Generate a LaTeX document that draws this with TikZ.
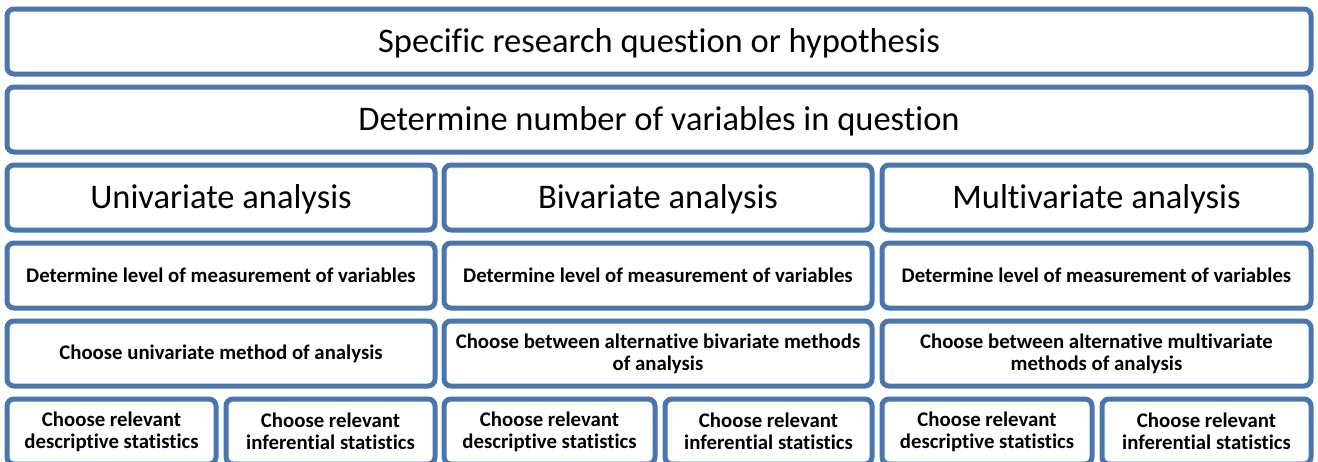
\documentclass[tikz,border=0pt]{standalone}
\usepackage{fontspec}
\setmainfont{Carlito}[Ligatures={NoCommon}]
\definecolor{boxblue}{RGB}{74,118,174}
\begin{document}
\begin{tikzpicture}[x=1pt,y=-1pt,
  box/.style={draw=boxblue, line width=5pt, rounded corners=7pt, fill=white,
              inner sep=0pt, minimum height=65pt, align=center},
  big/.style={font=\fontsize{34.5}{40}\selectfont, text height=29.5pt, text depth=7pt},
  small/.style={font=\bfseries\fontsize{20.8}{22}\selectfont}]
\useasboundingbox (0,0) rectangle (1318,461);
\begin{scope}
\clip (0,0) rectangle (1318,461);
% full-width rows
\node[box, big, minimum width=1304pt] (question) at (659,41.5) {Specific research question or hypothesis};
\node[box, big, minimum width=1304pt] (number) at (659,119.5) {Determine number of variables in question};
% analysis columns
\node[box, big, minimum width=428pt] (uni) at (221,197.5) {Univariate analysis};
\node[box, big, minimum width=428pt] (bi) at (658,197.5) {Bivariate analysis};
\node[box, big, minimum width=429pt] (multi) at (1096.5,197.5) {Multivariate analysis};
% level of measurement
\node[box, small, minimum width=428pt] (unilevel) at (221,275.5) {Determine level of measurement of variables};
\node[box, small, minimum width=428pt] (bilevel) at (658,275.5) {Determine level of measurement of variables};
\node[box, small, minimum width=429pt] (multilevel) at (1096.5,275.5) {Determine level of measurement of variables};
% method choice
\node[box, small, minimum width=428pt] (unimethod) at (221,353.5) {Choose univariate method of analysis};
\node[box, small, minimum width=428pt] (bimethod) at (658,353.5) {Choose between alternative bivariate methods\\of analysis};
\node[box, small, minimum width=429pt] (multimethod) at (1096.5,353.5) {Choose between alternative multivariate\\methods of analysis};
% statistics
\node[box, small, minimum width=209pt] (unidesc) at (111.5,431.5) {Choose relevant\\descriptive statistics};
\node[box, small, minimum width=209pt] (uniinf) at (330.5,431.5) {Choose relevant\\inferential statistics};
\node[box, small, minimum width=211pt] (bidesc) at (549.5,431.5) {Choose relevant\\descriptive statistics};
\node[box, small, minimum width=207pt] (biinf) at (768.5,431.5) {Choose relevant\\inferential statistics};
\node[box, small, minimum width=210pt] (multidesc) at (987,431.5) {Choose relevant\\descriptive statistics};
\node[box, small, minimum width=209pt] (multiinf) at (1206.5,431.5) {Choose relevant\\inferential statistics};
\end{scope}
\end{tikzpicture}
\end{document}
